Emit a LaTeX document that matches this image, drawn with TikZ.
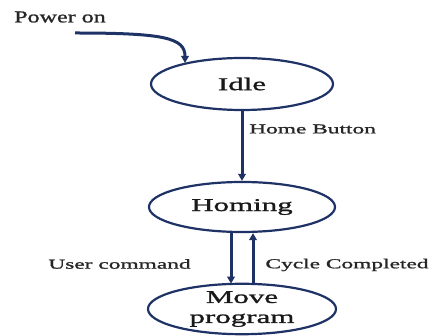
\documentclass[tikz,border=0pt]{standalone}
\usepackage{fontspec}
\setmainfont{Liberation Serif}[FakeStretch=1.72,FakeBold=1.3]
\newfontfamily\powerfont{Liberation Serif}[FakeStretch=1.45,FakeBold=1.3]
\usetikzlibrary{shapes.geometric,arrows.meta}
\definecolor{navy}{RGB}{30,50,102}
\tikzset{
  state/.style={ellipse, draw=navy, line width=2.2pt, inner sep=0pt, font=\fontsize{18}{20}\selectfont, align=center, text=black!90},
  lbl/.style={inner sep=0pt, font=\fontsize{13.6}{15}\selectfont, text=black!85},
  flow/.style={draw=navy, line width=3pt, -{Triangle[length=7pt,width=7.5pt]}},
}
\begin{document}
\begin{tikzpicture}[x=1pt,y=-1pt]
\useasboundingbox (0,0) rectangle (434,336);
\node[state, minimum width=182pt, minimum height=52pt] (idle) at (242,84) {Idle};
\node[state, minimum width=186pt, minimum height=50pt] (homing) at (242,207) {Homing};
\node[state, minimum width=188pt, minimum height=50pt] (move) at (242,309) {Move\\program};
\node[inner sep=0pt, font=\powerfont\fontsize{16.6}{18}\selectfont, text=black!85] (power) at (60,17) {Power on};
\node[lbl, anchor=west] (home) at (249,129) {Home Button};
\node[lbl] (user) at (119.5,264) {User command};
\node[lbl] (cycle) at (347,265) {Cycle Completed};
\coordinate (pstart) at (75,33);
\coordinate (pend) at (185,63);
\draw[flow] (pstart) .. controls (165,33) and (185,38) .. (pend);
\draw[flow] (idle.south) -- (homing.north);
\draw[flow] ([xshift=-11pt]homing.south) -- ([xshift=-11pt,yshift=-1pt]move.north);
\draw[flow] ([xshift=11pt,yshift=-1pt]move.north) -- ([xshift=11pt]homing.south);
\end{tikzpicture}
\end{document}
